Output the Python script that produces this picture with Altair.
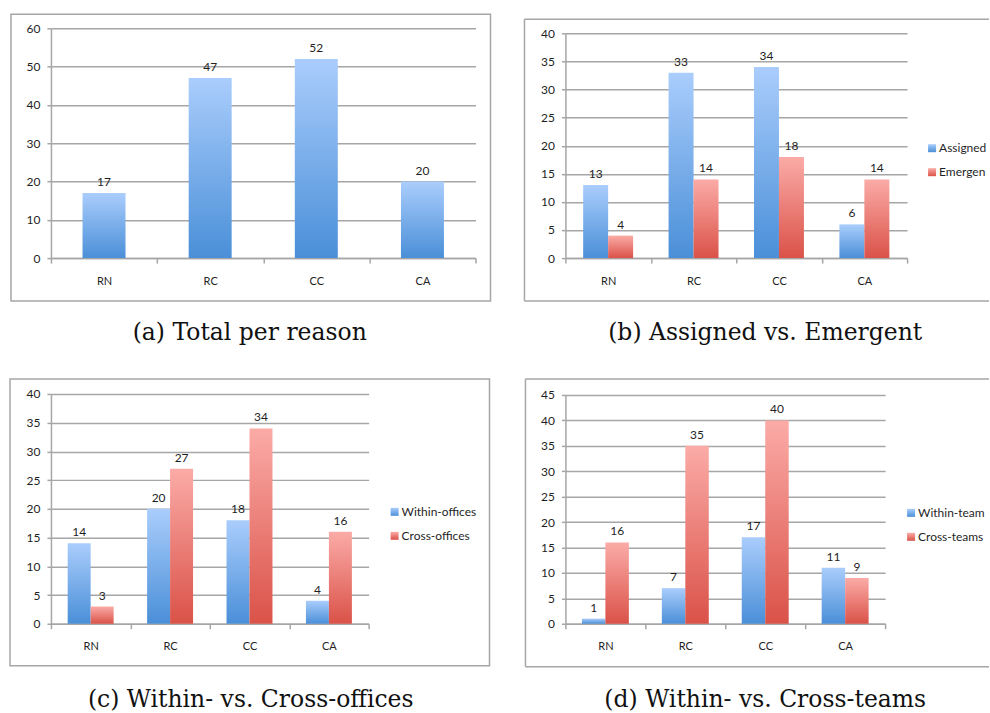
import altair as alt
import pandas as pd

# Counts per reason category
reasons = ["RN", "RC", "CC", "CA"]
total_per_reason = [17, 47, 52, 20]
assigned = [13, 33, 34, 6]
emergent = [4, 14, 18, 14]
within_offices = [14, 20, 18, 4]
cross_offices = [3, 27, 34, 16]
within_teams = [1, 7, 17, 11]
cross_teams = [16, 35, 40, 9]

GRID = "#A6A6A6"
LABEL = "#1F1F1F"
SANS = "Lato"
SERIF = "DejaVu Serif"
PLOT_H = 230


def gradient(bottom, top):
    return alt.Gradient(
        gradient="linear",
        stops=[alt.GradientStop(color=bottom, offset=0),
               alt.GradientStop(color=top, offset=1)],
        x1=0, x2=0, y1=1, y2=0,
    )


BLUE = gradient("#4A8FD8", "#AACDFC")
RED = gradient("#DA5248", "#FBABA7")


def one_row():
    return alt.Data(values=[{"k": 0}])


def box(x0, y0, x1, y1, **mark):
    return alt.Chart(one_row()).mark_rect(**mark).encode(
        x=alt.value(x0), x2=alt.value(x1), y=alt.value(y0), y2=alt.value(y1)
    )


def rule(x0, y0, x1, y1):
    return alt.Chart(one_row()).mark_rule(color=GRID, strokeWidth=1.5).encode(
        x=alt.value(x0), x2=alt.value(x1), y=alt.value(y0), y2=alt.value(y1)
    )


def label(x, y, text, **mark):
    return alt.Chart(one_row()).mark_text(**mark).encode(
        x=alt.value(x), y=alt.value(y), text=alt.value(text)
    )


def decorations(cell, frame, caption, cap_xy, open_right=False):
    cx0, cy0, cx1, cy1 = cell
    fx0, fy0, fx1, fy1 = frame
    # invisible box that fixes the extent of each panel in the grid
    layers = [box(cx0, cy0, cx1, cy1, color="white", opacity=0)]
    if open_right:
        layers += [rule(fx0, fy0, cx1, fy0), rule(fx0, fy1, cx1, fy1), rule(fx0, fy0, fx0, fy1)]
    else:
        layers.append(box(fx0, fy0, fx1, fy1, fillOpacity=0, stroke=GRID, strokeWidth=1.5))
    layers.append(label(cap_xy[0], cap_xy[1], caption, font=SERIF, fontSize=23.5,
                        color="#111111", align="center", baseline="middle"))
    return layers


def key(names, kx, ky, limit):
    layers = []
    for i, (name, fill) in enumerate(zip(names, [BLUE, RED])):
        cy = ky + 24 * i
        layers.append(box(kx, cy - 4, kx + 8, cy + 4, color=fill))
        layers.append(label(kx + 11, cy, name, font=SANS, fontSize=12, color=LABEL,
                            align="left", baseline="middle", limit=limit,
                            ellipsis="\u200b"))
    return layers


def y_axis(ticks):
    return alt.Axis(
        values=ticks, title=None, grid=True, gridColor=GRID, gridWidth=1.5,
        domainColor=GRID, domainWidth=1.5, tickColor=GRID, tickWidth=1.5,
        tickSize=4, labelPadding=7, labelFont=SANS, labelFontSize=12,
        labelColor=LABEL,
    )


def y_enc(ymax, step, top):
    return alt.Y("count:Q",
                 scale=alt.Scale(domain=[0, ymax], nice=False, range=[PLOT_H, top]),
                 axis=y_axis(list(range(0, ymax + 1, step))))


def x_axis():
    return alt.Axis(
        title=None, labelAngle=0, tickBand="extent", grid=False,
        domainColor=GRID, domainWidth=1.5, tickColor=GRID, tickWidth=1.5,
        tickSize=5, labelPadding=12, labelFont=SANS, labelFontSize=11,
        labelColor=LABEL,
    )


def x_enc():
    return alt.X("reason:N", sort=reasons,
                 scale=alt.Scale(paddingInner=0, paddingOuter=0), axis=x_axis())


def value_text(dx=0):
    return dict(font=SANS, fontSize=12, color=LABEL, baseline="bottom",
                align="center", dy=-4, dx=dx)


def single_panel(values, ymax, step, w, top, cell, frame, caption, cap_xy):
    df = pd.DataFrame({"reason": reasons, "count": values})
    y = y_enc(ymax, step, top)
    bars = alt.Chart(df).mark_bar(color=BLUE, width=alt.RelativeBandSize(0.405)).encode(
        x=x_enc(), y=y
    )
    labels = alt.Chart(df).mark_text(**value_text()).encode(
        x=x_enc(), y=y, text="count:Q"
    )
    return alt.layer(*decorations(cell, frame, caption, cap_xy), bars, labels).properties(
        width=w, height=PLOT_H
    )


def grouped_panel(names, first, second, ymax, step, w, top, bar_w,
                  cell, frame, caption, cap_xy, key_xy, key_limit, open_right):
    df = pd.DataFrame({
        "reason": reasons * 2,
        "series": [names[0]] * 4 + [names[1]] * 4,
        "count": list(first) + list(second),
    })
    y = y_enc(ymax, step, top)
    layers = []
    # the two series sit side by side around the centre of each category
    for name, fill, shift in [(names[0], BLUE, -bar_w / 2), (names[1], RED, bar_w / 2)]:
        part = alt.Chart(df).transform_filter(alt.datum.series == name)
        layers.append(part.mark_bar(color=fill, width=bar_w, xOffset=shift).encode(x=x_enc(), y=y))
        layers.append(part.mark_text(**value_text(shift)).encode(x=x_enc(), y=y, text="count:Q"))
    return alt.layer(
        *decorations(cell, frame, caption, cap_xy, open_right),
        *layers,
        *key(names, key_xy[0], key_xy[1], key_limit),
    ).properties(width=w, height=PLOT_H)


panel_a = single_panel(
    total_per_reason, 60, 10, 425, 0,
    cell=(-51, -28, 454, 332), frame=(-40, -14, 440, 273),
    caption="(a) Total per reason", cap_xy=(199, 305),
)
panel_b = grouped_panel(
    ["Assigned", "Emergent"], assigned, emergent, 40, 5, 342, 5, 25,
    cell=(-61, -28, 424, 332), frame=(-41, -9, 424, 273),
    caption="(b) Assigned vs. Emergent", cap_xy=(200, 305), key_xy=(363, 120),
    key_limit=50, open_right=True,
)
panel_c = grouped_panel(
    ["Within-offices", "Cross-offices"], within_offices, cross_offices, 40, 5, 318, 0, 23,
    cell=(-51, -34, 454, 319), frame=(-41, -15, 439, 272),
    caption="(c) Within- vs. Cross-offices", cap_xy=(200, 306), key_xy=(340, 118),
    key_limit=200, open_right=False,
)
panel_d = grouped_panel(
    ["Within-teams", "Cross-teams"], within_teams, cross_teams, 45, 5, 320, 1, 23.5,
    cell=(-61, -34, 424, 319), frame=(-40, -15, 424, 273),
    caption="(d) Within- vs. Cross-teams", cap_xy=(200, 306), key_xy=(342, 119),
    key_limit=70, open_right=True,
)

chart = (
    alt.concat(panel_a, panel_b, panel_c, panel_d, columns=2, spacing=0)
    .properties(padding=0, align="each", bounds="full")
    .configure_view(stroke=None)
)

chart.save("out.html", embed_options={"renderer": "svg", "actions": False})
